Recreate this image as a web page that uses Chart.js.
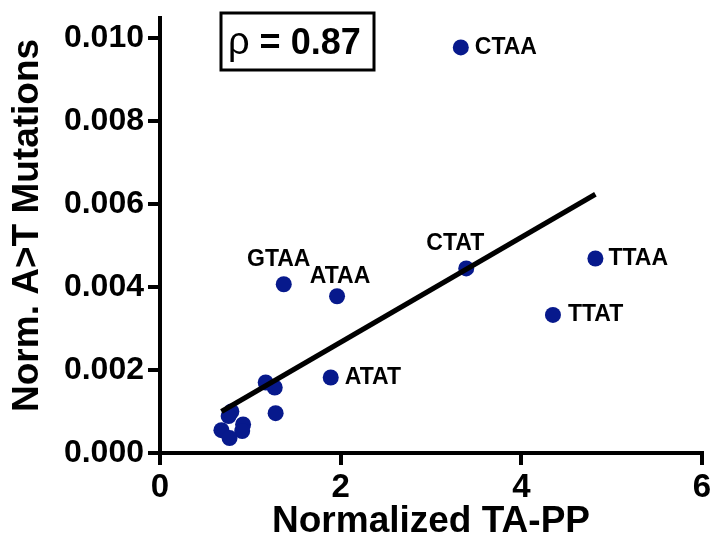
<!DOCTYPE html>
<html>
<head>
<meta charset="utf-8">
<script src="https://cdn.jsdelivr.net/npm/chart.js@4"></script>
<style>
  html, body { margin: 0; padding: 0; background: #ffffff; }
  #wrap { width: 715px; height: 544px; position: relative; }
</style>
</head>
<body>
<div id="wrap"><canvas id="c" width="715" height="544"></canvas></div>
<script>
// ---- data ----
const pointNames = ['CTAA', 'TTAA', 'CTAT', 'TTAT', 'GTAA', 'ATAA', 'ATAT',
                    '', '', '', '', '', '', '', '', ''];
const taPP = [3.33, 4.82, 3.39, 4.35, 1.37, 1.96, 1.89,
              1.17, 1.27, 1.28, 0.79, 0.76, 0.92, 0.68, 0.91, 0.77];
const atMutations = [0.00978, 0.00469, 0.00445, 0.00333, 0.00407, 0.00378, 0.00182,
                     0.00170, 0.00158, 0.00096, 0.00100, 0.00089, 0.00069, 0.00055, 0.00053, 0.00036];
const fitX = [0.68, 4.82];
const fitY = [0.00100, 0.00624];
const xTicks = [0, 2, 4, 6];
const yTicks = [0.000, 0.002, 0.004, 0.006, 0.008, 0.010];
const rhoText = '0.87';

// ---- styling ----
const FONT = "'Liberation Sans', Arial, Helvetica, sans-serif";
const DOT = '#07198c';
const labelPlacement = {
  CTAA: { dx: 14, dy: 0, align: 'left' },
  TTAA: { dx: 13, dy: 0, align: 'left' },
  TTAT: { dx: 15, dy: 0, align: 'left' },
  ATAT: { dx: 14, dy: 0, align: 'left' },
  CTAT: { dx: -11, dy: -25, align: 'center' },
  GTAA: { dx: -5, dy: -25, align: 'center' },
  ATAA: { dx: 3, dy: -20, align: 'center' }
};

const scatterData = taPP.map((x, i) => ({ x: x, y: atMutations[i] }));
const fitData = fitX.map((x, i) => ({ x: x, y: fitY[i] }));

const pointLabelPlugin = {
  id: 'pointLabels',
  afterDatasetsDraw(chart) {
    const meta = chart.getDatasetMeta(0);
    const ctx = chart.ctx;
    ctx.save();
    ctx.font = 'bold 23px ' + FONT;
    ctx.fillStyle = '#000';
    ctx.textBaseline = 'middle';
    meta.data.forEach((el, i) => {
      const name = pointNames[i];
      if (!name) return;
      const p = labelPlacement[name];
      ctx.textAlign = p.align;
      ctx.fillText(name, el.x + p.dx, el.y + p.dy);
    });
    ctx.restore();
  }
};

const rhoPlugin = {
  id: 'rhoBox',
  afterDraw(chart) {
    const ctx = chart.ctx;
    ctx.save();
    ctx.strokeStyle = '#000';
    ctx.lineWidth = 3;
    ctx.strokeRect(221, 13, 153, 57);
    ctx.fillStyle = '#000';
    ctx.textBaseline = 'alphabetic';
    ctx.textAlign = 'left';
    ctx.font = '38px ' + FONT;
    ctx.fillText('\u03C1', 228, 54);
    const w = ctx.measureText('\u03C1').width;
    ctx.font = 'bold 36px ' + FONT;
    ctx.fillText(' = ' + rhoText, 228 + w, 54);
    ctx.restore();
  }
};

new Chart(document.getElementById('c'), {
  type: 'scatter',
  data: {
    datasets: [
      {
        type: 'scatter',
        data: scatterData,
        backgroundColor: DOT,
        borderWidth: 0,
        pointRadius: 8,
        pointHoverRadius: 8,
        clip: false,
        order: 2
      },
      {
        type: 'line',
        data: fitData,
        borderColor: '#000',
        borderWidth: 5,
        pointRadius: 0,
        fill: false,
        showLine: true,
        clip: false,
        order: 1
      }
    ]
  },
  options: {
    responsive: false,
    animation: false,
    devicePixelRatio: 1,
    layout: { padding: { top: 15, right: 13, left: 0, bottom: 0 } },
    plugins: { legend: { display: false }, tooltip: { enabled: false } },
    scales: {
      x: {
        type: 'linear',
        min: 0,
        max: 6,
        afterBuildTicks(scale) { scale.ticks = xTicks.map(v => ({ value: v })); },
        afterFit(scale) { scale.height = 91; },
        ticks: {
          color: '#000',
          font: { family: FONT, size: 33, weight: 'bold' },
          padding: 3,
          maxRotation: 0,
          callback: v => String(v)
        },
        grid: { drawOnChartArea: false, drawTicks: true, tickLength: 12, color: '#000', lineWidth: 4 },
        border: { display: true, color: '#000', width: 4 },
        title: {
          display: true,
          text: 'Normalized TA-PP',
          color: '#000',
          font: { family: FONT, size: 37, weight: 'bold' },
          padding: { top: 0, bottom: 0 }
        }
      },
      y: {
        type: 'linear',
        min: 0,
        max: 0.01048,
        afterBuildTicks(scale) { scale.ticks = yTicks.map(v => ({ value: v })); },
        afterFit(scale) { scale.width = 160; },
        ticks: {
          color: '#000',
          font: { family: FONT, size: 32, weight: 'bold', lineHeight: 0.9 },
          padding: 4,
          callback: v => v.toFixed(3)
        },
        grid: { drawOnChartArea: false, drawTicks: true, tickLength: 12, color: '#000', lineWidth: 4 },
        border: { display: true, color: '#000', width: 4 },
        title: {
          display: true,
          text: '  Norm. A>T Mutations',
          color: '#000',
          font: { family: FONT, size: 37, weight: 'bold' },
          padding: { top: 6, bottom: 0 }
        }
      }
    }
  },
  plugins: [pointLabelPlugin, rhoPlugin]
});
</script>
</body>
</html>
